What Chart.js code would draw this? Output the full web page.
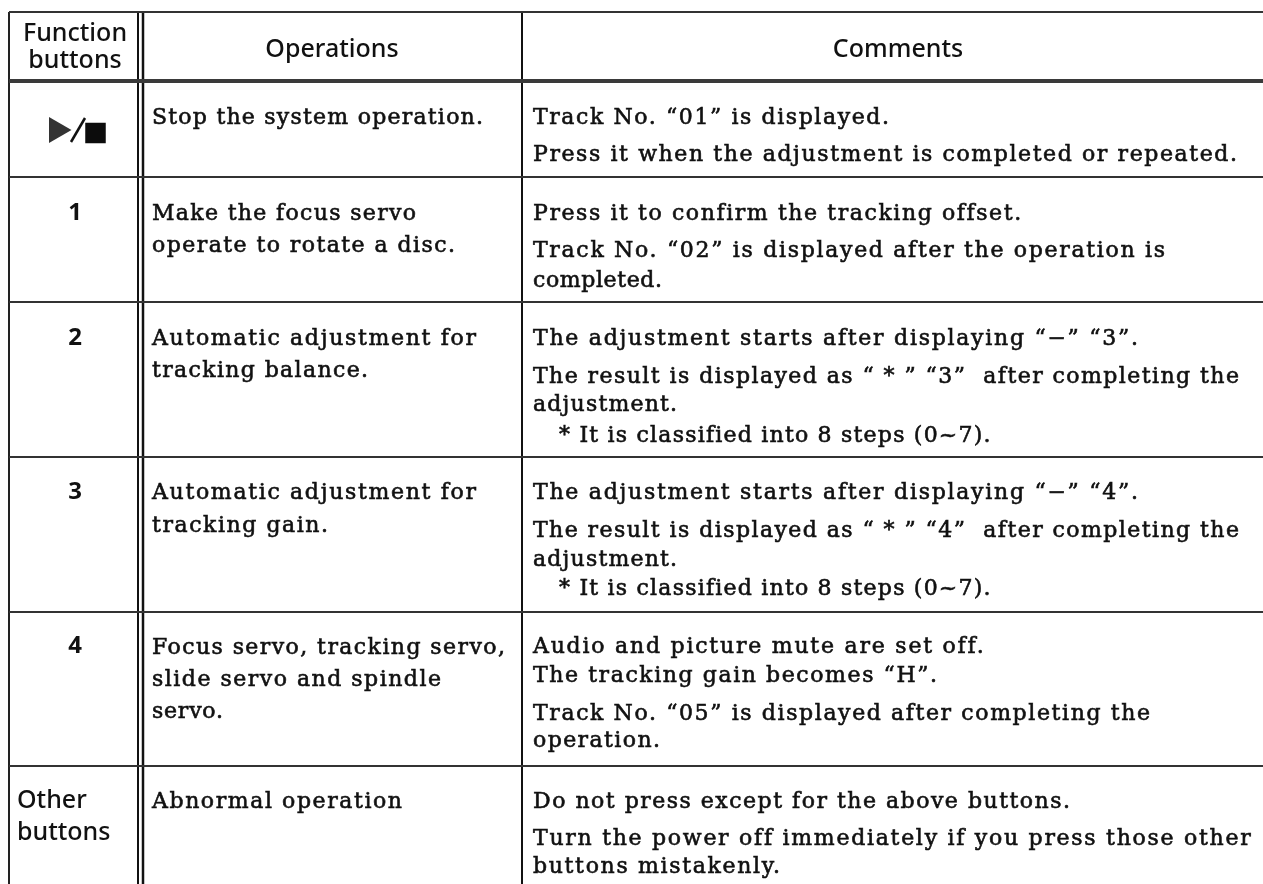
<!DOCTYPE html>
<html><head><meta charset="utf-8">
<style>html,body{margin:0;padding:0;background:#fff}canvas{display:block}</style>
<script src="https://cdn.jsdelivr.net/npm/chart.js@4"></script></head>
<body><canvas id="c" width="1263" height="884"></canvas>
<script>
const colEdges = [9, 138, 143, 522];
const pageBottom = 884, pageRight = 1263;
const rowEdges = [12, 81, 177, 302, 457, 612, 766];
const headerCells = [
  ["Function", 75, 41], ["buttons", 75, 68],
  ["Operations", 332, 57], ["Comments", 898, 57]
];
const buttonLabels = [["1", 75, 220], ["2", 75, 345], ["3", 75, 499], ["4", 75, 653]];
const otherButtons = [["Other", 17, 808], ["buttons", 17, 840]];
const operations = [
  ["Stop the system operation.", 152, 124, 483],
  ["Make the focus servo", 152, 220, 416],
  ["operate to rotate a disc.", 152, 252, 455],
  ["Automatic adjustment for", 152, 345, 476],
  ["tracking balance.", 152, 377, 368],
  ["Automatic adjustment for", 152, 499, 476],
  ["tracking gain.", 152, 532, 328],
  ["Focus servo, tracking servo,", 152, 654, 505],
  ["slide servo and spindle", 152, 686, 441],
  ["servo.", 152, 718, 223],
  ["Abnormal operation", 152, 808, 402]
];
const comments = [
  ["Track No. “01” is displayed.", 533, 124, 889],
  ["Press it when the adjustment is completed or repeated.", 533, 161, 1237],
  ["Press it to confirm the tracking offset.", 533, 220, 1020],
  ["Track No. “02” is displayed after the operation is", 533, 257, 1165],
  ["completed.", 533, 287, 662],
  ["The adjustment starts after displaying “−” “3”.", 533, 345, 1138],
  ["The result is displayed as “ * ” “3”  after completing the", 533, 383, 1239],
  ["adjustment.", 533, 411, 677],
  ["* It is classified into 8 steps (0~7).", 559, 442, 990],
  ["The adjustment starts after displaying “−” “4”.", 533, 499, 1138],
  ["The result is displayed as “ * ” “4”  after completing the", 533, 537, 1239],
  ["adjustment.", 533, 566, 677],
  ["* It is classified into 8 steps (0~7).", 559, 595, 990],
  ["Audio and picture mute are set off.", 533, 653, 983],
  ["The tracking gain becomes “H”.", 533, 682, 937],
  ["Track No. “05” is displayed after completing the", 533, 720, 1150],
  ["operation.", 533, 747, 660],
  ["Do not press except for the above buttons.", 533, 808, 1070],
  ["Turn the power off immediately if you press those other", 533, 845, 1250],
  ["buttons mistakenly.", 533, 873, 780]
];
const playMark = [[56.5, 130]], stopMark = [[95.5, 133]], slashMark = [[71, 142], [85, 118]];

const rule = (pts, w, col) => ({type:'line', data:pts.map(p=>({x:p[0],y:p[1]})), borderColor:col, borderWidth:w, pointRadius:0, showLine:true, fill:false});
const datasets = [];
rowEdges.forEach((y,i)=>datasets.push(rule([[colEdges[0],y],[pageRight,y]], i===1?4:2, i===1?'#3a3a3a':'#333')));
datasets.push(rule([[colEdges[0],rowEdges[0]],[colEdges[0],pageBottom]],2,'#222'));
datasets.push(rule([[colEdges[1],rowEdges[0]],[colEdges[1],pageBottom]],2,'#111'));
datasets.push(rule([[colEdges[2],rowEdges[0]],[colEdges[2],pageBottom]],2.5,'#111'));
datasets.push(rule([[colEdges[3],rowEdges[0]],[colEdges[3],pageBottom]],2,'#111'));
datasets.push(rule(slashMark,2.5,'#111'));
datasets.push({type:'scatter',data:playMark.map(p=>({x:p[0],y:p[1]})),pointStyle:'triangle',rotation:90,pointRadius:15,backgroundColor:'#333',borderWidth:0});
datasets.push({type:'scatter',data:stopMark.map(p=>({x:p[0],y:p[1]})),pointStyle:'rect',pointRadius:14.5,backgroundColor:'#0c0c0c',borderWidth:0});

const SERIF = '22px "DejaVu Serif"', SANS = '500 25px "Noto Sans"', DIGIT = '700 24px "Noto Sans"';
const textPlugin = {id:'tableText', afterDatasetsDraw(ch){
  const c=ch.ctx, X=ch.scales.x, Y=ch.scales.y;
  c.save(); c.fillStyle='#111'; c.strokeStyle='#111'; c.lineWidth=0.6; c.textBaseline='alphabetic';
  const fit=(r)=>{ c.letterSpacing='0px'; c.textAlign='left';
    const w=c.measureText(r[0]).width, xs=X.getPixelForValue(r[1]), xe=X.getPixelForValue(r[3]), ys=Y.getPixelForValue(r[2]);
    c.letterSpacing=((xe-xs-w)/(r[0].length-1)).toFixed(3)+'px';
    c.fillText(r[0],xs,ys); c.strokeText(r[0],xs,ys); c.letterSpacing='0px'; };
  c.font=SERIF; operations.forEach(fit); comments.forEach(fit);
  c.font=SANS; c.textAlign='center';
  headerCells.forEach(r=>c.fillText(r[0],X.getPixelForValue(r[1]),Y.getPixelForValue(r[2])));
  c.font=DIGIT;
  buttonLabels.forEach(r=>c.fillText(r[0],X.getPixelForValue(r[1]),Y.getPixelForValue(r[2])));
  c.font=SANS; c.textAlign='left';
  otherButtons.forEach(r=>c.fillText(r[0],X.getPixelForValue(r[1]),Y.getPixelForValue(r[2])));
  c.restore();
}};
new Chart(document.getElementById('c'),{
  type:'scatter', data:{datasets},
  options:{responsive:false,animation:false,events:[],
    layout:{padding:0,autoPadding:false},
    plugins:{legend:{display:false},tooltip:{enabled:false},title:{display:false}},
    scales:{x:{type:'linear',min:0,max:1263,display:false},y:{type:'linear',min:0,max:884,reverse:true,display:false}}},
  plugins:[textPlugin]
});
</script></body></html>
